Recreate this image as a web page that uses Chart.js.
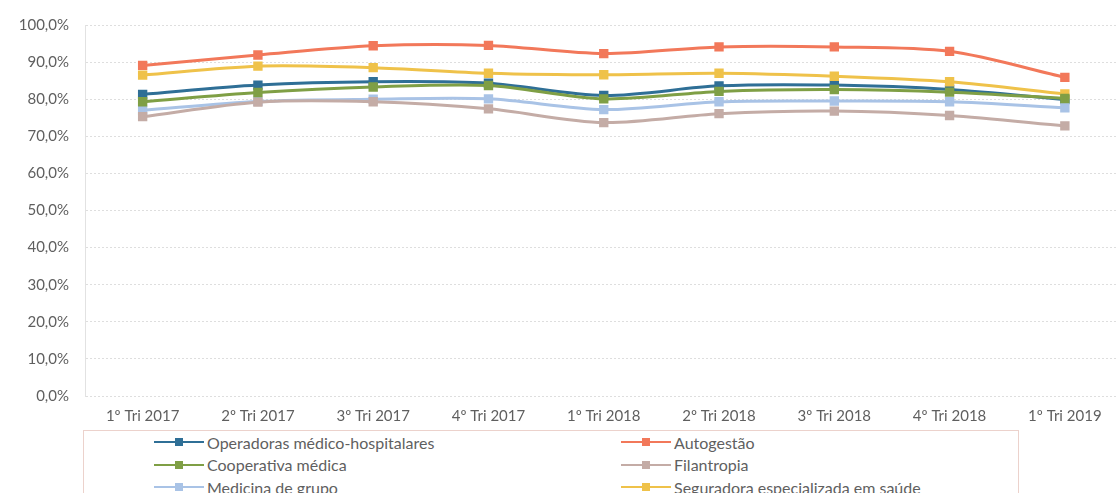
<!DOCTYPE html>
<html>
<head>
<meta charset="utf-8">
<script src="https://cdn.jsdelivr.net/npm/chart.js@4"></script>
<style>
  html, body { margin: 0; padding: 0; background: #fff; overflow: hidden; }
  body { width: 1117px; height: 493px; position: relative; font-family: Lato, "Open Sans", sans-serif; }
  #wrap { position: absolute; left: 0; top: 0; width: 1130px; height: 428px; }
  #legend {
    position: absolute; left: 83px; top: 430px; width: 936px; height: 90px;
    border: 1px solid #ecd2cc; box-sizing: border-box;
  }
  .item { position: absolute; display: flex; align-items: center; height: 22px;
    font-size: 16px; color: #5f5f5f; white-space: nowrap; }
  .mark { position: relative; width: 50px; height: 2px; margin-right: 3px; }
  .mark i { position: absolute; left: 21px; top: -3px; width: 8px; height: 8px; }
</style>
</head>
<body>
<div id="wrap"><canvas id="myChart"></canvas></div>
<div id="legend"></div>
<script>
const labels = ["1º Tri 2017", "2º Tri 2017", "3º Tri 2017", "4º Tri 2017", "1º Tri 2018",
                "2º Tri 2018", "3º Tri 2018", "4º Tri 2018", "1º Tri 2019"];

const operadoras  = [81.3, 83.8, 84.7, 84.3, 81.0, 83.6, 83.8, 82.6, 79.9];
const autogestao  = [89.1, 91.9, 94.4, 94.5, 92.3, 94.1, 94.1, 92.9, 85.9];
const cooperativa = [79.3, 81.8, 83.3, 83.7, 80.1, 82.1, 82.6, 81.9, 80.2];
const filantropia = [75.3, 79.2, 79.3, 77.4, 73.7, 76.1, 76.8, 75.6, 72.8];
const medicina    = [77.0, 79.4, 80.0, 80.1, 77.2, 79.3, 79.5, 79.3, 77.7];
const seguradora  = [86.5, 88.9, 88.5, 87.0, 86.6, 87.0, 86.2, 84.7, 81.4];

const seriesNames = ["Operadoras médico-hospitalares", "Autogestão", "Cooperativa médica",
                     "Filantropia", "Medicina de grupo", "Seguradora especializada em saúde"];
const seriesData = [operadoras, autogestao, cooperativa, filantropia, medicina, seguradora];
const seriesColors = ["#2f6f96", "#f2785a", "#7f9f45", "#c4aca6", "#a9c3e6", "#efc24a"];

// draw order: lighter lines below, like the original
const drawOrder = [5, 1, 0, 2, 3, 4];

const datasets = seriesNames.map((name, i) => ({
    label: name,
    data: seriesData[i],
    borderColor: seriesColors[i],
    backgroundColor: seriesColors[i],
    borderWidth: 3,
    pointStyle: "rect",
    pointRadius: 4.5,
    pointHoverRadius: 4.5,
    tension: 0.3,
    order: drawOrder[i]
}));

const ctx = document.getElementById("myChart").getContext("2d");

new Chart(ctx, {
    type: "line",
    data: { labels: labels, datasets: datasets },
    options: {
        responsive: true,
        maintainAspectRatio: false,
        animation: false,
        layout: { padding: { top: 13, right: 3, left: 0, bottom: 0 } },
        plugins: { legend: { display: false }, tooltip: { enabled: false } },
        scales: {
            x: {
                offset: true,
                grid: { display: false },
                border: { display: false },
                ticks: { color: "#5f5f5f", font: { family: "Lato", size: 15 }, padding: 3, maxRotation: 0 }
            },
            y: {
                min: 0, max: 100,
                afterFit: (s) => { s.width = 85; },
                grid: { color: "#dedede", lineWidth: 1, drawTicks: false },
                border: { color: "#e2e2e2", dash: [2, 2] },
                ticks: {
                    stepSize: 10, color: "#5f5f5f", padding: 16,
                    font: { family: "Lato", size: 15 },
                    callback: (v) => v.toFixed(1).replace(".", ",") + "%"
                }
            }
        }
    }
});

// legend in two columns, built from the series lists
const legend = document.getElementById("legend");
seriesNames.forEach((name, i) => {
    const div = document.createElement("div");
    div.className = "item";
    div.style.left = (i % 2 === 0 ? 70 : 537) + "px";
    div.style.top = (0 + Math.floor(i / 2) * 22.5) + "px";
    div.innerHTML = `<span class="mark" style="background:${seriesColors[i]}"><i style="background:${seriesColors[i]}"></i></span>${name}`;
    legend.appendChild(div);
});
</script>
</body>
</html>
